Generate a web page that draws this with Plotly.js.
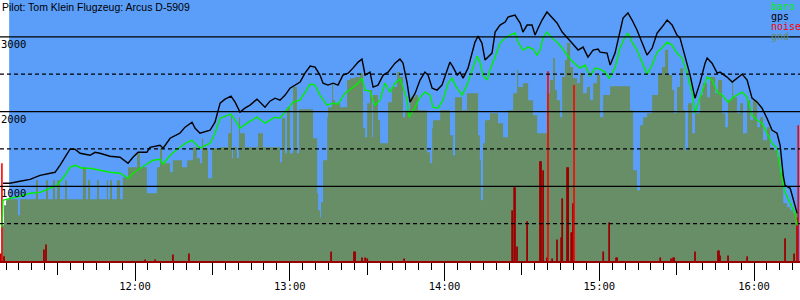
<!DOCTYPE html>
<html>
<head>
<meta charset="utf-8">
<script src="https://cdn.plot.ly/plotly-3.0.1.min.js"></script>
<style>html,body{margin:0;padding:0;background:#fff;}#chart{width:800px;height:300px;}</style>
</head>
<body>
<div id="chart"></div>
<script>
// time values: minutes after midnight
const titleText = "Pilot: Tom Klein Flugzeug: Arcus D-5909";
const seriesNames = ["baro", "gps", "noise", "gnd"];

const gpsTime = [668.8,671.5,675.4,679.3,683.2,687.0,689.0,690.9,692.9,694.8,696.7,698.7,702.6,704.5,706.4,710.3,714.2,717.3,719.2,721.2,724.6,725.8,729.7,730.9,733.6,737.4,739.4,741.3,742.1,743.3,745.2,749.1,751.0,753.0,754.9,757.2,758.8,760.7,762.6,764.6,767.3,768.5,770.4,772.3,774.3,776.2,778.2,780.1,782.0,784.0,785.9,787.9,789.8,791.7,792.9,794.8,796.8,798.7,800.6,802.6,804.5,806.5,808.0,809.2,811.1,812.3,814.2,816.2,818.1,820.8,822.7,823.9,825.5,826.6,828.6,830.5,832.4,833.6,835.2,837.1,839.0,841.0,842.1,843.3,844.9,846.0,847.2,849.1,850.7,851.8,853.0,854.5,855.7,856.9,858.4,859.6,861.5,863.5,864.6,867.3,869.3,870.4,872.0,873.9,875.1,876.3,877.8,879.7,881.7,883.6,885.6,887.5,889.4,891.8,893.7,895.6,897.6,899.5,900.3,903.0,904.2,906.1,908.0,909.2,911.1,912.7,914.6,916.6,918.5,920.5,922.4,924.3,926.3,928.2,930.1,931.3,933.3,935.2,937.1,939.1,941.0,941.8,943.7,945.7,946.8,949.5,951.5,953.4,955.4,957.3,959.2,961.2,963.1,965.0,967.0,968.9,970.1,971.3,972.0,974.0,975.9,976.7];
const gpsAlt = [1040,1040,1067,1093,1147,1174,1187,1281,1388,1496,1496,1442,1415,1455,1442,1402,1388,1308,1388,1455,1455,1522,1549,1509,1643,1710,1791,1831,1858,1777,1710,1750,1858,2112,2166,2206,2126,1992,2045,2086,2166,2126,2059,2139,2179,2153,2220,2313,2354,2394,2514,2608,2595,2488,2380,2354,2380,2354,2488,2514,2581,2662,2702,2488,2528,2327,2354,2488,2528,2648,2702,2648,2380,2126,2246,2421,2528,2488,2313,2287,2354,2555,2662,2595,2488,2528,2447,2581,2783,2930,3010,2917,2689,2729,2783,3064,3158,3198,3265,3292,3185,3064,3158,3158,3024,3118,3225,3332,3252,3185,3064,2984,2917,2823,2863,2729,2823,2836,2796,2783,2622,2783,3064,3252,3319,3225,3091,2917,2756,2850,3051,3131,3225,3158,3024,2984,2729,2488,2179,2394,2648,2716,2648,2514,2528,2461,2394,2447,2501,2421,2179,2126,2045,1911,1750,1710,1549,1147,1013,973,745,638];

const baroTime = [668.4,668.8,671.5,675.4,679.3,683.2,687.0,689.8,692.9,694.8,696.7,699.5,702.6,706.4,710.3,714.2,717.3,719.2,721.9,725.0,727.0,729.7,730.9,733.6,737.4,740.2,742.1,743.3,745.2,749.1,751.0,753.0,754.9,757.2,758.8,760.7,763.4,767.3,770.4,774.3,776.2,778.9,781.3,784.0,785.9,787.9,789.8,791.7,794.5,796.8,798.7,801.4,804.1,806.5,808.0,809.2,811.1,813.0,815.0,816.9,818.9,820.8,822.7,823.9,825.5,826.2,828.6,830.5,832.4,834.4,835.5,837.5,839.4,841.4,842.9,844.1,845.2,846.8,848.7,850.7,852.6,853.7,854.9,856.5,857.6,859.6,861.5,863.5,865.4,867.3,868.5,870.4,872.4,874.3,875.9,877.0,878.2,879.7,881.7,883.6,885.6,887.5,889.8,892.5,894.5,896.4,898.4,900.3,902.2,903.8,906.1,908.0,910.0,911.1,912.7,914.6,916.6,918.5,920.5,922.4,924.3,926.3,928.2,930.1,932.1,934.0,936.0,937.1,939.1,941.8,943.7,945.7,947.6,949.9,951.9,955.4,957.3,959.2,961.2,963.1,965.0,967.0,968.9,970.9,972.0,974.0,975.9,976.7];
const baroAlt = [450,812,839,866,906,919,973,1013,1147,1254,1281,1241,1241,1214,1187,1174,1107,1174,1241,1308,1348,1362,1295,1415,1522,1589,1616,1576,1509,1576,1710,1911,1938,1965,1884,1777,1844,1925,1844,1925,1911,2019,2126,2153,2260,2367,2354,2220,2086,2112,2099,2246,2313,2380,2447,2287,2273,2086,2153,2380,2260,2380,2434,2327,2153,1925,2059,2193,2260,2220,2059,2045,2153,2380,2447,2354,2300,2220,2354,2555,2742,2662,2488,2421,2555,2729,2917,2984,3024,3051,2930,2823,2863,2836,2756,2823,2984,3064,2984,2930,2850,2756,2662,2581,2622,2474,2581,2568,2528,2447,2581,2850,2997,3051,2930,2823,2648,2501,2622,2796,2850,2930,2890,2783,2716,2514,2246,1978,2193,2461,2421,2260,2220,2126,2193,2260,2193,1951,1884,1844,1710,1576,1509,1080,919,785,638,477];

const gndTime = [668.4,669.2,670.0,670.4,674.6,675.4,681.6,682.4,685.5,686.3,688.2,689.0,689.8,690.9,692.9,693.6,699.8,701.0,701.8,702.6,705.3,706.0,709.1,709.5,710.3,711.1,713.0,714.2,715.3,717.3,720.8,721.9,724.6,728.5,729.7,730.5,733.6,734.7,738.2,740.2,742.5,744.0,745.2,746.0,746.4,748.3,749.9,753.0,756.1,757.2,757.6,758.0,759.5,760.3,760.7,762.6,767.7,769.6,776.2,777.0,778.2,778.9,780.1,781.3,782.8,783.6,789.0,790.6,791.0,791.7,792.1,792.9,794.5,794.8,796.4,796.8,797.5,799.5,802.2,803.4,805.3,807.2,808.4,809.2,810.0,811.1,811.9,812.3,814.2,815.0,818.1,819.6,821.6,822.7,823.9,824.7,826.6,828.6,829.7,833.2,834.4,835.2,835.5,838.3,842.1,843.3,844.1,846.8,848.7,853.0,853.7,854.1,854.9,855.7,857.6,860.7,862.7,864.6,866.6,868.1,868.5,870.4,872.4,874.3,875.9,879.7,880.9,882.1,882.8,883.6,884.8,885.6,886.7,887.5,888.7,889.8,891.4,892.5,893.7,895.2,896.4,897.6,899.1,900.3,901.5,904.2,911.9,913.1,914.6,915.8,917.0,918.5,920.5,922.8,924.3,925.5,926.7,928.2,929.0,930.1,931.3,932.5,933.3,934.4,936.0,937.1,939.1,940.2,941.8,942.9,944.9,946.0,947.6,948.8,949.9,951.5,951.9,953.4,954.6,955.7,957.3,958.5,959.6,961.2,962.3,963.5,965.0,966.2,967.4,968.9,970.1,971.3,972.8,974.0,975.1,976.7];
const gndAlt = [477,745,812,825,611,825,1080,825,1080,825,1080,825,1080,825,1080,825,1254,825,1080,825,1080,825,1080,825,1080,825,1080,825,1120,1254,1442,1254,906,1254,1509,1308,1187,1348,1254,1348,1522,1375,1308,1643,1509,1107,1509,1522,1710,1951,1375,1522,1375,1925,1710,1522,1710,1522,1321,1911,1442,2059,1442,2327,1442,2032,1643,906,678,584,785,1348,1925,2059,2380,2153,2112,2059,2421,2447,2461,2514,1777,1656,2112,2287,1656,2220,1884,1576,2126,2327,2528,2461,1925,2019,2193,2220,2019,1455,1308,1777,1884,2019,1683,1415,2193,2019,2246,1683,1348,812,1576,1884,1978,1844,1656,2019,2246,2555,2327,2380,2153,1951,1710,2246,2421,2716,2287,2153,1925,2461,2689,2917,2595,2447,2380,2514,2246,2327,2153,2380,2488,1925,2220,2340,2019,1214,946,1817,1925,1978,2220,2488,2595,2823,2488,2287,1978,2327,2581,2019,1482,2112,1710,1978,2220,2380,2193,2461,2246,2421,1978,1791,2153,2394,2193,1978,2112,1710,2153,1884,2153,1791,1925,1616,1791,1522,1482,1388,1174,772,718,678,638,584];

const noiseTime = [668.0,669.2,684.7,685.5,723.9,727.8,734.7,740.9,796.0,804.9,805.3,808.0,809.2,810.0,824.3,866.2,867.0,867.3,868.1,872.0,877.0,877.4,878.2,879.7,881.7,883.6,885.2,885.6,887.5,887.9,889.1,889.4,889.8,901.5,903.8,906.5,906.9,923.6,927.8,928.6,929.0,937.1,946.0,946.4,946.8,949.9,957.3,972.0,975.5,976.7];
const noiseVal = [102,62,155,222,21,21,88,102,128,128,128,48,48,35,35,678,986,986,195,531,1335,1335,1214,48,35,289,316,839,1254,1254,383,383,772,128,517,48,48,48,35,48,48,128,142,142,75,75,62,303,102,584];
const peakTime = [668.4,880.1,890.2,977.1];
const peakVal = [1308,2541,2354,1817];

const hourTicks = [720, 780, 840, 900, 960];
const hourLabels = ["12:00", "13:00", "14:00", "15:00", "16:00"];
const yTickVals = [1000, 2000, 3000];
const yTickText = ["1000", "2000", "3000"];
const gridSolid = [1000, 2000, 3000];
const gridDashed = [500, 1500, 2500];
const xStart = 667.66, xEnd = 977.8, skyStart = 671.2, yTop = 3493;

const C = {sky:'#5b9ef9', gnd:'#678e66', baro:'#00ee00', gps:'#000000', noise:'#9b0000', peak:'#ff0000'};
const mono = "'DejaVu Sans Mono', monospace";

function stems(t, v) {
  const x = [], y = [];
  t.forEach((ti, i) => { x.push(ti, ti, null); y.push(0, v[i], null); });
  return {x, y};
}
const ns = stems(noiseTime, noiseVal);
const ps = stems(peakTime, peakVal);

const traces = [
  {x: gndTime, y: gndAlt, type:'scatter', mode:'lines', line:{shape:'hv', width:0, color:C.gnd}, fill:'tozeroy', fillcolor:C.gnd, hoverinfo:'skip'},
  {x: ns.x, y: ns.y, type:'scatter', mode:'lines', line:{color:C.noise, width:1.8}, hoverinfo:'skip'},
  {x: ps.x, y: ps.y, type:'scatter', mode:'lines', line:{color:C.peak, width:1.6}, hoverinfo:'skip'},
  {x: baroTime, y: baroAlt, type:'scatter', mode:'lines', line:{color:C.baro, width:1.4}, hoverinfo:'skip'},
  {x: gpsTime, y: gpsAlt, type:'scatter', mode:'lines', line:{color:C.gps, width:1.4}, hoverinfo:'skip'},
  // invisible carrier so the half-hour tick axis is drawn
  {x: gpsTime, y: gpsAlt, xaxis:'x2', yaxis:'y', type:'scatter', mode:'lines', opacity:0, line:{width:0}, hoverinfo:'skip'}
];

const shapes = [{type:'rect', xref:'x', yref:'paper', x0:skyStart, x1:xEnd, y0:0, y1:1, fillcolor:C.sky, line:{width:0}, layer:'below'}];
gridSolid.forEach(v => shapes.push({type:'line', xref:'paper', yref:'y', x0:0, x1:1, y0:v, y1:v, line:{color:'#000', width:1.3}, layer:'above'}));
gridDashed.forEach(v => shapes.push({type:'line', xref:'paper', yref:'y', x0:0, x1:1, y0:v, y1:v, line:{color:'#000', width:1.3, dash:'4px,3px'}, layer:'above'}));

const annotations = [{xref:'paper', yref:'paper', x:0, y:1, xanchor:'left', yanchor:'top', yshift:1, showarrow:false, text:titleText, font:{family:"'Liberation Sans', Arial, sans-serif", size:10.5, color:'#000'}}];
yTickVals.forEach((v, i) => annotations.push({xref:'paper', yref:'y', x:0, y:v, xanchor:'left', yanchor:'top', showarrow:false, borderpad:0, text:yTickText[i], font:{family:mono, size:10.5, color:'#000'}}));
const legColors = [C.baro, C.gps, C.peak, C.gnd];
seriesNames.forEach((n, i) => annotations.push({xref:'paper', yref:'paper', x:0.9625, y:1, xanchor:'left', yanchor:'top', yshift:-(i*10), showarrow:false, borderpad:0, text:n, font:{family:mono, size:10, color:legColors[i]}}));

const layout = {
  width:800, height:300,
  margin:{l:0, r:0, t:0, b:39},
  paper_bgcolor:'#fff', plot_bgcolor:'#fff',
  showlegend:false,
  xaxis:{range:[xStart, xEnd], tickmode:'array', tickvals:hourTicks, ticktext:hourLabels, ticks:'outside', ticklen:18, tickwidth:1, tickcolor:'#000',
         showgrid:false, zeroline:false, showline:true, linecolor:C.noise, linewidth:2, ticklabelstandoff:-4,
         tickfont:{family:mono, size:10.5, color:'#000'},
         minor:{tickmode:'linear', tick0:0, dtick:5, ticks:'outside', ticklen:7, tickwidth:1, tickcolor:'#000', showgrid:false}},
  xaxis2:{range:[xStart, xEnd], overlaying:'x', anchor:'y', side:'bottom', tickmode:'linear', tick0:0, dtick:30, ticks:'outside', ticklen:13, tickwidth:1, tickcolor:'#000',
         showticklabels:false, showgrid:false, zeroline:false, showline:false},
  yaxis:{range:[0, yTop], showgrid:false, zeroline:false, showticklabels:false, ticks:'', showline:false, fixedrange:true},
  shapes, annotations
};

Plotly.newPlot('chart', traces, layout, {displayModeBar:false, staticPlot:true});
</script>
</body>
</html>
